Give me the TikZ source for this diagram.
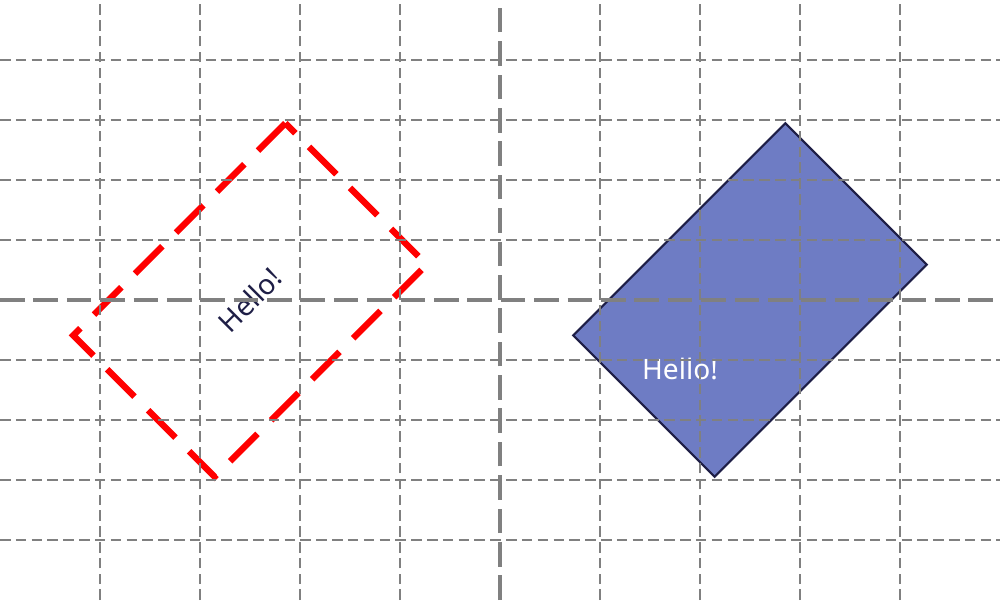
\documentclass[tikz,border=0pt]{standalone}
\usepackage{fontspec}
\setmainfont{Noto Sans}
\definecolor{boxblue}{RGB}{110,124,196}
\definecolor{inkblue}{RGB}{30,30,70}
\tikzset{
  gridline/.style={gray, line width=0.5pt, dash pattern=on 3pt off 1.5pt},
  axisline/.style={gray, line width=1.1pt, dash pattern=on 7pt off 2.5pt},
  hellobox/.style={rectangle, rotate=45, minimum width=3cm, minimum height=2cm, inner sep=0pt, font=\fontsize{8}{9}\selectfont}
}
\begin{document}
\begin{tikzpicture}
\useasboundingbox (-5,-3) rectangle (5,3);
\node[hellobox, draw=red, line width=1.8pt, dash pattern=on 11pt off 5.5pt, text=inkblue] (outline) at (-2.5,0) {Hello!};
\node[hellobox, draw=inkblue, line width=0.6pt, fill=boxblue] (filled) at (2.5,0) {};
\node[font=\fontsize{8}{9}\selectfont, text=white] (label) at (1.8,-0.69) {Hello!};
% grid over the shapes
\foreach \x in {-4,-3,-2,-1,1,2,3,4}
  \draw[gridline] (\x,-3) -- (\x,3);
\foreach \y in {-2.4,-1.8,-1.2,-0.6,0.6,1.2,1.8,2.4}
  \draw[gridline] (-5,\y) -- (5,\y);
\draw[axisline] (0,-3) -- (0,3);
\draw[axisline] (-5,0) -- (5,0);
\end{tikzpicture}
\end{document}
